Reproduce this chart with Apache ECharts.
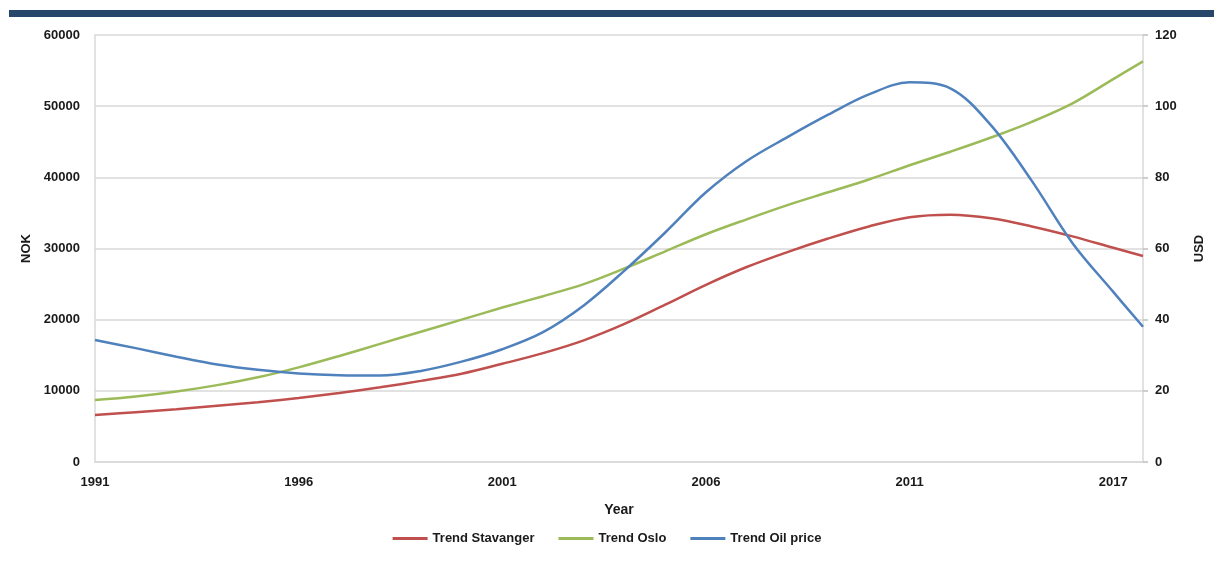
<!DOCTYPE html>
<html>
<head>
<meta charset="utf-8">
<title>Trend Stavanger / Oslo / Oil price</title>
<script src="https://cdn.jsdelivr.net/npm/echarts@6/dist/echarts.min.js"></script>
<style>
  html, body { margin: 0; padding: 0; background: #ffffff; }
  #chart { width: 1214px; height: 565px; }
</style>
</head>
<body>
<div id="chart"></div>
<script>
// Sample positions on the year scale (the final sample closes the trend at the right edge)
const years = [1991, 1992, 1993, 1994, 1995, 1996, 1997, 1998, 1999, 2000,
               2001, 2002, 2003, 2004, 2005, 2006, 2007, 2008, 2009, 2010,
               2011, 2012, 2013, 2014, 2015, 2016, 2016.73];

// Trend Stavanger, NOK
const stavanger = [6600, 7000, 7400, 7900, 8400, 9000, 9700, 10500, 11400, 12400,
                   13800, 15300, 17100, 19400, 22100, 24900, 27400, 29500, 31400, 33100,
                   34400, 34750, 34250, 33100, 31700, 30100, 28950];

// Trend Oslo, NOK
const oslo = [8700, 9200, 9900, 10800, 11900, 13300, 14900, 16600, 18300, 20000,
              21700, 23300, 25000, 27200, 29600, 32000, 34100, 36100, 37900, 39700,
              41700, 43600, 45600, 47800, 50400, 53800, 56300];

// Trend Oil price, USD
const oilPrice = [34.3, 32.0, 29.6, 27.4, 25.9, 24.9, 24.4, 24.3, 25.6, 28.2,
                  31.7, 36.5, 44.0, 53.8, 64.5, 75.8, 84.6, 91.3, 97.6, 103.3,
                  106.7, 105.0, 94.6, 79.0, 61.5, 47.8, 38.0];

// Tick labels shown along the year axis, one per 5-year step
const xTickLabels = ['1991', '1996', '2001', '2006', '2011', '2017'];

const seriesNames = ['Trend Stavanger', 'Trend Oslo', 'Trend Oil price'];
const colors = ['#C0504D', '#9BBB59', '#4F81BD'];

const pairs = (vals) => vals.map((v, i) => [years[i], v]);

const labelFont = {
  fontFamily: 'Liberation Sans, Arial, sans-serif',
  fontWeight: 'bold',
  fontSize: 13,
  color: '#1a1a1a'
};

const plain = (v) => String(v);

const chart = echarts.init(document.getElementById('chart'), null, { renderer: 'canvas' });

chart.setOption({
  animation: false,
  backgroundColor: '#ffffff',
  color: colors,
  graphic: [{
    type: 'rect',
    shape: { x: 9, y: 10, width: 1205, height: 7 },
    style: { fill: '#284669' },
    silent: true
  }],
  grid: { left: 95, right: 69, top: 35, bottom: 103, containLabel: false },
  legend: {
    bottom: 15,
    left: 'center',
    icon: 'rect',
    itemWidth: 35,
    itemHeight: 3,
    itemGap: 24,
    textStyle: Object.assign({}, labelFont, { fontSize: 13 }),
    data: seriesNames
  },
  xAxis: {
    type: 'value',
    min: 1991,
    max: years[years.length - 1],
    interval: 5,
    name: 'Year',
    nameLocation: 'middle',
    nameGap: 41,
    nameTextStyle: Object.assign({}, labelFont, { fontSize: 14 }),
    axisLine: { show: true, lineStyle: { color: '#D9D9D9', width: 1.5 } },
    axisTick: { show: false },
    splitLine: { show: false },
    axisLabel: Object.assign({}, labelFont, {
      margin: 14,
      showMaxLabel: false,
      formatter: (v) => {
        const idx = Math.round((v - 1991) / 5);
        return xTickLabels[idx] !== undefined ? xTickLabels[idx] : '';
      }
    })
  },
  yAxis: [{
    type: 'value',
    min: 0,
    max: 60000,
    interval: 10000,
    position: 'left',
    name: 'NOK',
    nameLocation: 'middle',
    nameRotate: 90,
    nameGap: 62,
    nameTextStyle: Object.assign({}, labelFont, { fontSize: 13 }),
    axisLine: { show: true, lineStyle: { color: '#D9D9D9', width: 1.5 } },
    axisTick: { show: false },
    splitLine: { show: true, lineStyle: { color: '#D9D9D9', width: 1.5 } },
    axisLabel: Object.assign({}, labelFont, { margin: 15, formatter: plain })
  }, {
    type: 'value',
    min: 0,
    max: 120,
    interval: 20,
    position: 'right',
    name: 'USD',
    nameLocation: 'middle',
    nameRotate: 90,
    nameGap: 50,
    nameTextStyle: Object.assign({}, labelFont, { fontSize: 13 }),
    axisLine: { show: true, lineStyle: { color: '#D9D9D9', width: 1.5 } },
    axisTick: { show: true, inside: false, length: 5, lineStyle: { color: '#BFBFBF', width: 1.5 } },
    splitLine: { show: false },
    axisLabel: Object.assign({}, labelFont, { margin: 12, formatter: plain })
  }],
  series: [{
    name: seriesNames[0],
    type: 'line',
    yAxisIndex: 0,
    smooth: 0.35,
    showSymbol: false,
    lineStyle: { width: 2.5, color: colors[0] },
    itemStyle: { color: colors[0] },
    data: pairs(stavanger)
  }, {
    name: seriesNames[1],
    type: 'line',
    yAxisIndex: 0,
    smooth: 0.35,
    showSymbol: false,
    lineStyle: { width: 2.5, color: colors[1] },
    itemStyle: { color: colors[1] },
    data: pairs(oslo)
  }, {
    name: seriesNames[2],
    type: 'line',
    yAxisIndex: 1,
    smooth: 0.35,
    showSymbol: false,
    lineStyle: { width: 2.5, color: colors[2] },
    itemStyle: { color: colors[2] },
    data: pairs(oilPrice)
  }]
});
</script>
</body>
</html>
